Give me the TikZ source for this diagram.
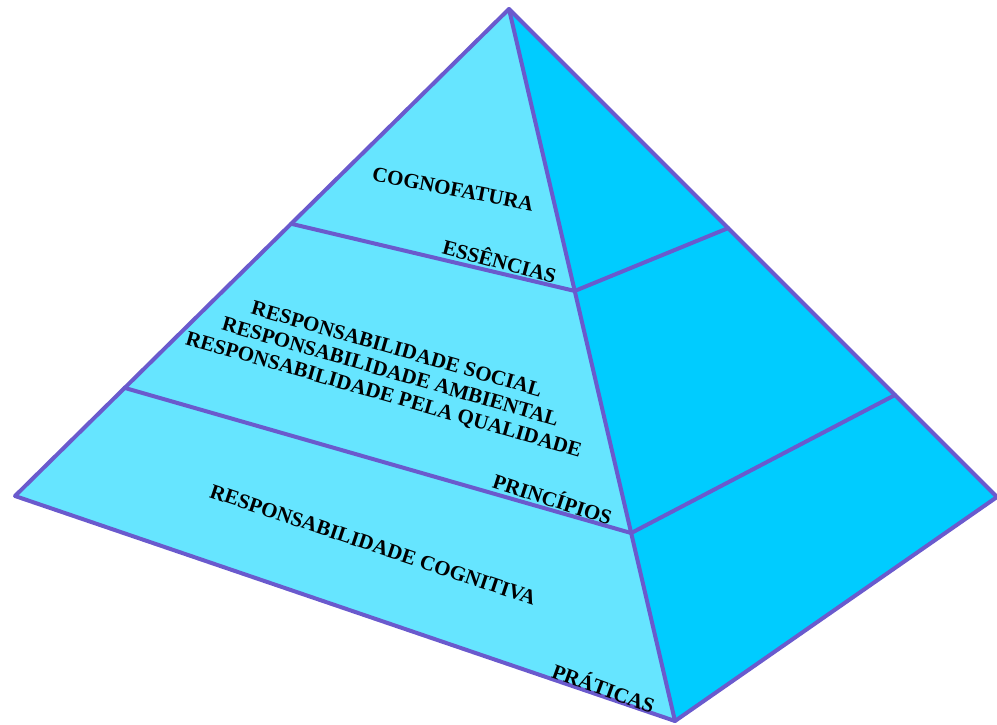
\documentclass[tikz,border=0pt]{standalone}
\usepackage{fontspec}
\setmainfont{Liberation Serif}
\usetikzlibrary{calc}
\definecolor{edgec}{RGB}{106,90,205}
\definecolor{leftc}{RGB}{102,229,255}
\definecolor{rightc}{RGB}{0,204,255}
\tikzset{
  edge/.style={draw=edgec, line width=4pt, line join=round, line cap=round},
  lbl/.style={font=\bfseries\fontsize{21}{23.5}\selectfont, text=black, inner sep=0pt, align=center},
}
\begin{document}
\begin{tikzpicture}[x=1pt,y=-1pt]
\useasboundingbox (0,0) rectangle (997,724);
\coordinate (apex) at (509,9);
\coordinate (L) at (15,496);
\coordinate (B) at (675,721);
\coordinate (R) at (997,497);
\coordinate (l1) at ($(apex)!0.441!(L)$);
\coordinate (l2) at ($(apex)!0.778!(L)$);
\coordinate (m1) at ($(apex)!0.396!(B)$);
\coordinate (m2) at ($(apex)!0.736!(B)$);
\coordinate (r1) at ($(apex)!0.449!(R)$);
\coordinate (r2) at ($(apex)!0.791!(R)$);
\fill[leftc] (apex) -- (L) -- (B) -- cycle;
\fill[rightc] (apex) -- (B) -- (R) -- cycle;
\draw[edge] (l1) -- (m1) -- (r1);
\draw[edge] (l2) -- (m2) -- (r2);
\draw[edge] (apex) -- (B);
\draw[edge] (apex) -- (L) -- (B) -- (R) -- cycle;
\node[lbl, rotate=-11] (cogno) at (453,189) {COGNOFATURA};
\node[lbl, rotate=-15] (ess) at (500,260) {ESSÊNCIAS};
\node[lbl, rotate=-16] (resp) at (390,373) {RESPONSABILIDADE SOCIAL\\RESPONSABILIDADE AMBIENTAL\\RESPONSABILIDADE PELA QUALIDADE};
\node[lbl, rotate=-18] (princ) at (553,498) {PRINCÍPIOS};
\node[lbl, rotate=-18.5] (cog) at (373,545) {RESPONSABILIDADE COGNITIVA};
\node[lbl, rotate=-20] (prat) at (604,687) {PRÁTICAS};
\end{tikzpicture}
\end{document}
